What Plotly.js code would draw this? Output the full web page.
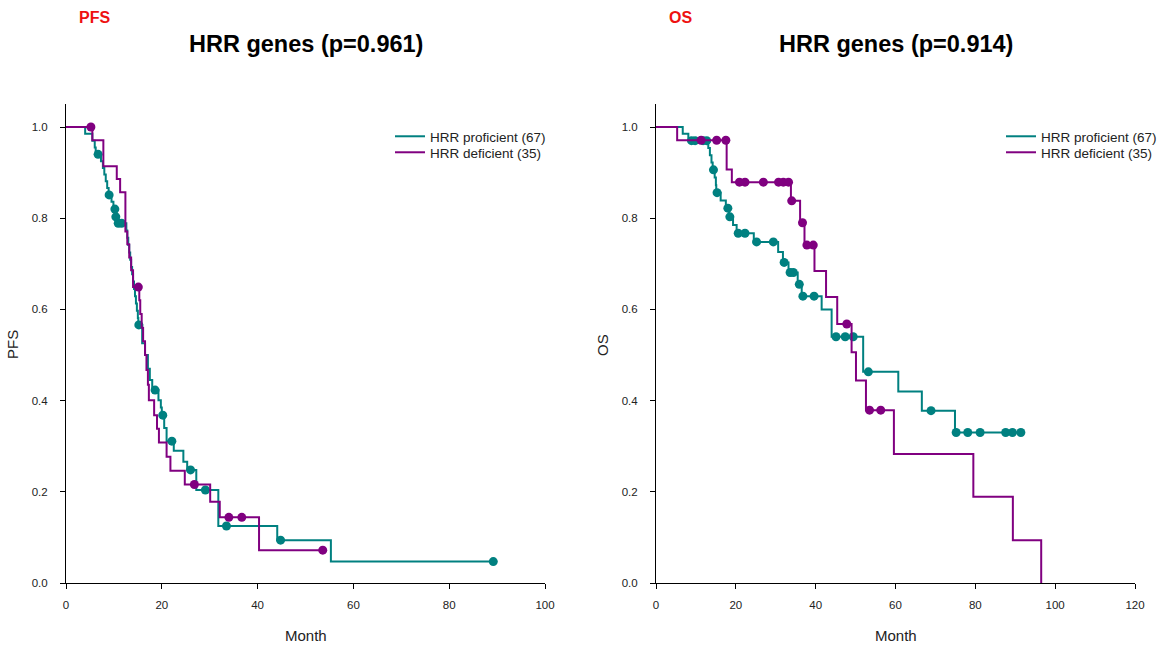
<!DOCTYPE html>
<html>
<head>
<meta charset="utf-8">
<script src="https://cdn.plot.ly/plotly-3.0.1.min.js"></script>
<style>
html,body{margin:0;padding:0;background:#fff;}
#chart{width:1162px;height:647px;}
</style>
</head>
<body>
<div id="chart"></div>
<script>
// ---------- DATA ----------
const seriesNames = ["HRR proficient (67)", "HRR deficient (35)"];
const panelTags = ["PFS", "OS"];
const panelTitles = ["HRR genes (p=0.961)", "HRR genes (p=0.914)"];

// PFS – HRR proficient: step times (months) and survival after each step
const pfsProfTime = [0, 4.0, 5.5, 6.0, 6.2, 7.3, 7.7, 8.0, 8.3, 8.6, 8.9, 9.5, 9.9, 10.3, 10.7,
  12.6, 12.8, 13.0, 13.2, 13.4, 13.6, 13.8, 14.0, 14.2, 14.4, 14.6, 14.8, 15.0, 15.1,
  15.9, 16.5, 17.1, 17.5, 18.0, 19.3, 19.8, 20.0, 20.5, 21.0, 22.5, 24.5, 25.3, 27.2, 31.8, 44.1, 55.3];
const pfsProfSurv = [1.0, 0.985, 0.970, 0.955, 0.940, 0.925, 0.910, 0.896, 0.881, 0.866, 0.851, 0.836, 0.820, 0.803, 0.789,
  0.773, 0.757, 0.741, 0.725, 0.709, 0.693, 0.677, 0.661, 0.645, 0.629, 0.613, 0.597, 0.581, 0.566,
  0.526, 0.500, 0.470, 0.445, 0.423, 0.401, 0.385, 0.368, 0.340, 0.311, 0.290, 0.266, 0.248, 0.204, 0.125, 0.094, 0.047];
const pfsProfCens = [6.7, 9.0, 10.2, 10.4, 10.9, 11.6, 15.2, 18.6, 20.2, 22.1, 26.0, 29.1, 33.5, 44.8, 89.2];

// PFS – HRR deficient
const pfsDefTime = [0, 5.5, 7.8, 10.6, 11.3, 12.4, 12.8, 13.2, 13.6, 14.0, 15.3, 15.5, 15.8, 16.1, 16.5,
  16.8, 17.1, 17.3, 18.4, 19.0, 19.4, 21.0, 21.8, 24.8, 30.1, 32.1, 40.3];
const pfsDefSurv = [1.0, 0.971, 0.914, 0.886, 0.857, 0.771, 0.743, 0.714, 0.686, 0.649, 0.620, 0.590, 0.560, 0.530, 0.500,
  0.467, 0.435, 0.401, 0.368, 0.338, 0.308, 0.277, 0.246, 0.216, 0.178, 0.144, 0.072];
const pfsDefCens = [5.2, 15.1, 26.8, 34.0, 36.7, 53.6];

// OS – HRR proficient
const osProfTime = [0, 6.7, 8.1, 13.1, 13.5, 13.9, 14.2, 14.7, 15.0, 15.1, 16.2, 17.5, 18.3, 19.3, 20.2,
  24.5, 30.6, 31.8, 33.2, 35.5, 36.5, 41.5, 44.0, 51.9, 60.7, 66.6, 74.9];
const osProfSurv = [1.0, 0.985, 0.970, 0.954, 0.938, 0.922, 0.906, 0.889, 0.872, 0.856, 0.839, 0.822, 0.803, 0.785, 0.767,
  0.748, 0.726, 0.703, 0.681, 0.655, 0.629, 0.600, 0.540, 0.463, 0.420, 0.378, 0.330];
const osProfCens = [8.9, 9.8, 11.8, 12.7, 14.4, 15.3, 18.0, 18.5, 20.6, 22.3, 25.2, 29.4, 32.1, 33.6, 34.4,
  35.9, 36.8, 39.6, 45.1, 47.4, 49.4, 53.2, 68.9, 75.2, 78.1, 81.2, 87.6, 89.3, 91.4];

// OS – HRR deficient
const osDefTime = [0, 5.3, 17.7, 19.0, 33.8, 36.1, 37.2, 39.7, 42.6, 45.4, 49.0, 50.1, 52.6, 59.6, 79.5, 89.4, 96.5];
const osDefSurv = [1.0, 0.971, 0.907, 0.879, 0.838, 0.790, 0.741, 0.684, 0.627, 0.568, 0.506, 0.444, 0.379, 0.283, 0.189, 0.094, 0.0];
const osDefCens = [11.3, 15.2, 17.5, 20.9, 22.3, 26.9, 30.7, 31.9, 33.2, 34.0, 36.7, 37.8, 39.4, 47.8, 53.5, 56.3];

const xTickVals = [[0, 20, 40, 60, 80, 100], [0, 20, 40, 60, 80, 100, 120]];
const yTickVals = [0, 0.2, 0.4, 0.6, 0.8, 1.0];

// ---------- BUILD ----------
const TEAL = "#008080";
const PURPLE = "#800080";

function stepAt(ts, ss, t) {
  let s = ss[0];
  for (let i = 0; i < ts.length; i++) if (ts[i] <= t) s = ss[i];
  return s;
}

function kmTraces(ts, ss, cens, name, color, xa, ya, legendId) {
  const xs = ts.slice(), ys = ss.slice();
  const lastC = Math.max(...cens);
  if (lastC > xs[xs.length - 1]) { xs.push(lastC); ys.push(ys[ys.length - 1]); }
  const line = {
    x: xs, y: ys, type: "scatter", mode: "lines", name: name,
    line: {shape: "hv", color: color, width: 2},
    xaxis: xa, yaxis: ya, legend: legendId, hoverinfo: "skip"
  };
  const marks = {
    x: cens, y: cens.map(t => stepAt(ts, ss, t)), type: "scatter", mode: "markers",
    marker: {color: color, size: 9, symbol: "circle", line: {color: color, width: 0}},
    xaxis: xa, yaxis: ya, showlegend: false, hoverinfo: "skip", legend: legendId
  };
  return [line, marks];
}

const data = [
  ...kmTraces(pfsProfTime, pfsProfSurv, pfsProfCens, seriesNames[0], TEAL, "x", "y", "legend"),
  ...kmTraces(pfsDefTime, pfsDefSurv, pfsDefCens, seriesNames[1], PURPLE, "x", "y", "legend3"),
  ...kmTraces(osProfTime, osProfSurv, osProfCens, seriesNames[0], TEAL, "x2", "y2", "legend2"),
  ...kmTraces(osDefTime, osDefSurv, osDefCens, seriesNames[1], PURPLE, "x2", "y2", "legend4")
];

const W = 1162, H = 647;
const px = v => v / W;
const py = v => (H - v) / H;
const FONT = "Liberation Sans, Arial, sans-serif";

function xAxis(domain, range, ticks, anchor) {
  return {
    domain: domain, range: range, tickvals: ticks, ticktext: ticks.map(String),
    showline: true, linecolor: "#000", linewidth: 1, mirror: false,
    ticks: "outside", ticklen: 5, tickcolor: "#000", tickwidth: 1, ticklabelstandoff: 6,
    showgrid: false, zeroline: false, anchor: anchor, automargin: false,
    tickfont: {family: FONT, size: 11.5, color: "#222"}, fixedrange: true
  };
}
function yAxis(range, anchor) {
  return {
    domain: [py(583), py(583 - 1.05 * 456)], range: range, tickvals: yTickVals,
    tickformat: ".1f", showline: true, linecolor: "#000", linewidth: 1,
    ticks: "outside", ticklen: 5, tickcolor: "#000", tickwidth: 1, ticklabelstandoff: 10,
    showgrid: false, zeroline: false, anchor: anchor, automargin: false,
    tickfont: {family: FONT, size: 11.5, color: "#222"}, fixedrange: true
  };
}

const legendCommon = {
  font: {family: FONT, size: 13.5, color: "#222"}, bgcolor: "rgba(0,0,0,0)",
  borderwidth: 0, xanchor: "left", yanchor: "top", tracegroupgap: 0, itemwidth: 30
};

const annoBase = {xref: "paper", yref: "paper", showarrow: false, xanchor: "center", yanchor: "middle"};

const layout = {
  width: W, height: H,
  margin: {l: 0, r: 0, t: 0, b: 0},
  paper_bgcolor: "#fff", plot_bgcolor: "#fff",
  font: {family: FONT, color: "#222"},
  xaxis: xAxis([px(66), px(545)], [0, 100], xTickVals[0], "y"),
  yaxis: yAxis([0, 1.05], "x"),
  xaxis2: xAxis([px(656), px(1135)], [0, 120], xTickVals[1], "y2"),
  yaxis2: yAxis([0, 1.05], "x2"),
  legend: Object.assign({x: px(390), y: py(121)}, legendCommon),
  legend3: Object.assign({x: px(390), y: py(137)}, legendCommon),
  legend2: Object.assign({x: px(1001), y: py(121)}, legendCommon),
  legend4: Object.assign({x: px(1001), y: py(137)}, legendCommon),
  showlegend: true,
  annotations: [
    Object.assign({text: "<b>" + panelTags[0] + "</b>", x: px(94), y: py(18),
     font: {family: FONT, size: 16, color: "#ee1111"}}, annoBase),
    Object.assign({text: "<b>" + panelTags[1] + "</b>", x: px(680), y: py(18),
     font: {family: FONT, size: 16, color: "#ee1111"}}, annoBase),
    Object.assign({text: "<b>" + panelTitles[0] + "</b>", x: px(306), y: py(44),
     font: {family: FONT, size: 23.5, color: "#000"}}, annoBase),
    Object.assign({text: "<b>" + panelTitles[1] + "</b>", x: px(896), y: py(44),
     font: {family: FONT, size: 23.5, color: "#000"}}, annoBase),
    Object.assign({text: "Month", x: px(306), y: py(635),
     font: {family: FONT, size: 15, color: "#222"}}, annoBase),
    Object.assign({text: "Month", x: px(896), y: py(635),
     font: {family: FONT, size: 15, color: "#222"}}, annoBase),
    Object.assign({text: panelTags[0], x: px(12), y: py(345), textangle: -90,
     font: {family: FONT, size: 15, color: "#222"}}, annoBase),
    Object.assign({text: panelTags[1], x: px(602), y: py(345), textangle: -90,
     font: {family: FONT, size: 15, color: "#222"}}, annoBase)
  ]
};

Plotly.newPlot("chart", data, layout, {staticPlot: true, displayModeBar: false});
</script>
</body>
</html>
